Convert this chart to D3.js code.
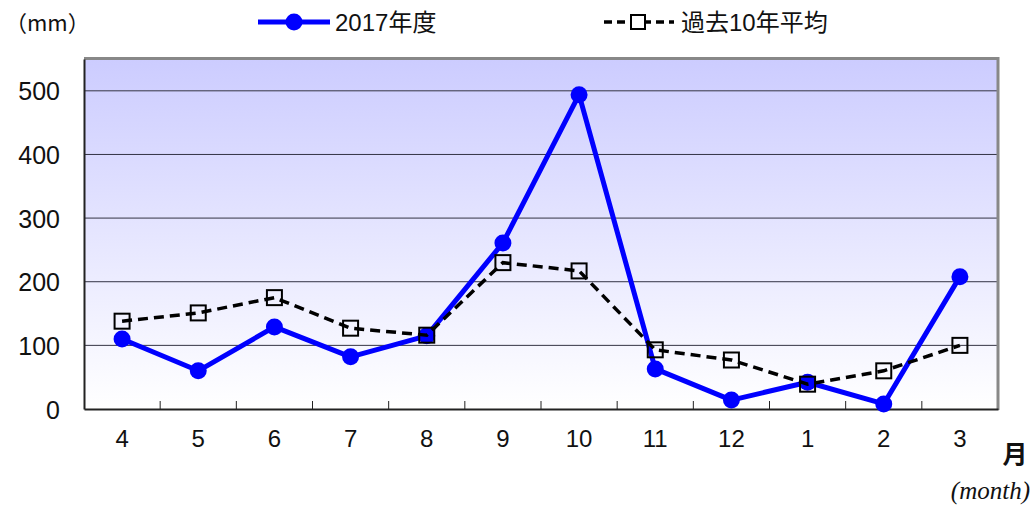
<!DOCTYPE html>
<html>
<head>
<meta charset="utf-8">
<script src="https://cdn.jsdelivr.net/npm/d3@7"></script>
<style>
  html, body { margin: 0; padding: 0; background: #fff; }
  svg { display: block; }
</style>
</head>
<body>
<svg id="chart" width="1031" height="508"></svg>
<script>
// Monthly precipitation (mm), fiscal year April–March
const months = ["4", "5", "6", "7", "8", "9", "10", "11", "12", "1", "2", "3"];
const rain2017 = [110, 60, 129, 82, 115, 261, 494, 63, 14, 42, 8, 208];
const rainAvg10 = [138, 151, 175, 127, 116, 230, 217, 93, 77, 39, 60, 100];
const yTicks = [0, 100, 200, 300, 400, 500];
const seriesNames = ["2017年度", "過去10年平均"];

const svg = d3.select("#chart");
const m = { left: 84, right: 998, top: 59, bottom: 409 };
const font = "'Liberation Sans', Arial, 'Noto Sans CJK JP', sans-serif";

const x = d3.scaleBand().domain(months).range([m.left, m.right]);
const y = d3.scaleLinear().domain([0, 550]).range([m.bottom, m.top]);
const cx = d => x(d) + x.bandwidth() / 2;

// Plot background gradient
const defs = svg.append("defs");
const grad = defs.append("linearGradient").attr("id", "bg")
  .attr("x1", 0).attr("y1", 0).attr("x2", 0).attr("y2", 1);
grad.append("stop").attr("offset", "0%").attr("stop-color", "#ccccff");
grad.append("stop").attr("offset", "100%").attr("stop-color", "#ffffff");

svg.append("rect")
  .attr("x", m.left).attr("y", m.top)
  .attr("width", m.right - m.left).attr("height", m.bottom - m.top)
  .attr("fill", "url(#bg)");

// Horizontal gridlines
svg.append("g").selectAll("line").data(yTicks.filter(t => t > 0)).join("line")
  .attr("x1", m.left).attr("x2", m.right)
  .attr("y1", d => y(d)).attr("y2", d => y(d))
  .attr("stroke", "#333344").attr("stroke-width", 1);

// Frame: shaded top/right, dark left/bottom
svg.append("line").attr("x1", m.left).attr("x2", m.right + 1)
  .attr("y1", m.top - 0.5).attr("y2", m.top - 0.5)
  .attr("stroke", "#888888").attr("stroke-width", 3);
svg.append("line").attr("x1", m.right).attr("x2", m.right)
  .attr("y1", m.top - 2).attr("y2", m.bottom + 1)
  .attr("stroke", "#888888").attr("stroke-width", 3);

// Y axis
const yAxis = svg.append("g")
  .attr("transform", `translate(${m.left},0)`)
  .call(d3.axisLeft(y).tickValues(yTicks).tickSize(0).tickPadding(24));
yAxis.select(".domain").attr("stroke", "#222").attr("stroke-width", 2);
yAxis.selectAll("text").attr("font-family", font).attr("font-size", 25)
  .attr("fill", "#111").attr("dy", "0.36em");

// X axis with inward ticks at category boundaries
const xAxis = svg.append("g")
  .attr("transform", `translate(0,${m.bottom})`)
  .call(d3.axisBottom(x).tickSize(0).tickPadding(21));
xAxis.select(".domain").attr("stroke", "#222").attr("stroke-width", 2);
xAxis.selectAll("text").attr("font-family", font).attr("font-size", 24)
  .attr("fill", "#111");
svg.append("g").selectAll("line").data(months.slice(1)).join("line")
  .attr("x1", d => x(d)).attr("x2", d => x(d))
  .attr("y1", m.bottom).attr("y2", m.bottom - 8)
  .attr("stroke", "#222").attr("stroke-width", 1);

// Axis units
svg.append("text").attr("x", 5).attr("y", 31)
  .attr("font-family", "'Noto Sans CJK JP', sans-serif").attr("font-size", 22)
  .attr("fill", "#111").text("（mm）");
svg.append("text").attr("x", 1015).attr("y", 463).attr("text-anchor", "middle")
  .attr("font-family", "'Noto Sans CJK JP', sans-serif").attr("font-size", 25)
  .attr("font-weight", "bold").attr("fill", "#111").text("月");
svg.append("text").attr("x", 1030).attr("y", 499).attr("text-anchor", "end")
  .attr("font-family", "'Liberation Serif', 'Times New Roman', serif")
  .attr("font-style", "italic").attr("font-size", 25)
  .attr("fill", "#111").text("(month)");

// 2017 series
const line = d3.line().x((d, i) => cx(months[i])).y(d => y(d));
svg.append("path").datum(rain2017)
  .attr("d", line).attr("fill", "none")
  .attr("stroke", "#0000ff").attr("stroke-width", 5)
  .attr("stroke-linejoin", "round");
svg.append("g").selectAll("circle").data(rain2017).join("circle")
  .attr("cx", (d, i) => cx(months[i])).attr("cy", d => y(d))
  .attr("r", 8.5).attr("fill", "#0000ff");

// 10-year average series
svg.append("path").datum(rainAvg10)
  .attr("d", line).attr("fill", "none")
  .attr("stroke", "#000").attr("stroke-width", 3.5)
  .attr("stroke-dasharray", "10,6");
const sq = 15;
svg.append("g").selectAll("rect").data(rainAvg10).join("rect")
  .attr("x", (d, i) => cx(months[i]) - sq / 2).attr("y", d => y(d) - sq / 2)
  .attr("width", sq).attr("height", sq)
  .attr("fill", "none").attr("stroke", "#000").attr("stroke-width", 2);

// Legend
const lg = svg.append("g");
lg.append("line").attr("x1", 258).attr("x2", 330).attr("y1", 22).attr("y2", 22)
  .attr("stroke", "#0000ff").attr("stroke-width", 5);
lg.append("circle").attr("cx", 294).attr("cy", 22).attr("r", 8.5).attr("fill", "#0000ff");
lg.append("text").attr("x", 335).attr("y", 31)
  .attr("font-family", font).attr("font-size", 24).attr("fill", "#111")
  .text(seriesNames[0]);

lg.append("line").attr("x1", 604).attr("x2", 674).attr("y1", 22).attr("y2", 22)
  .attr("stroke", "#000").attr("stroke-width", 3.5).attr("stroke-dasharray", "8,5");
lg.append("rect").attr("x", 631).attr("y", 15).attr("width", 14).attr("height", 14)
  .attr("fill", "#fff").attr("stroke", "#000").attr("stroke-width", 2);
lg.append("text").attr("x", 681).attr("y", 31)
  .attr("font-family", font).attr("font-size", 24).attr("fill", "#111")
  .text(seriesNames[1]);
</script>
</body>
</html>
